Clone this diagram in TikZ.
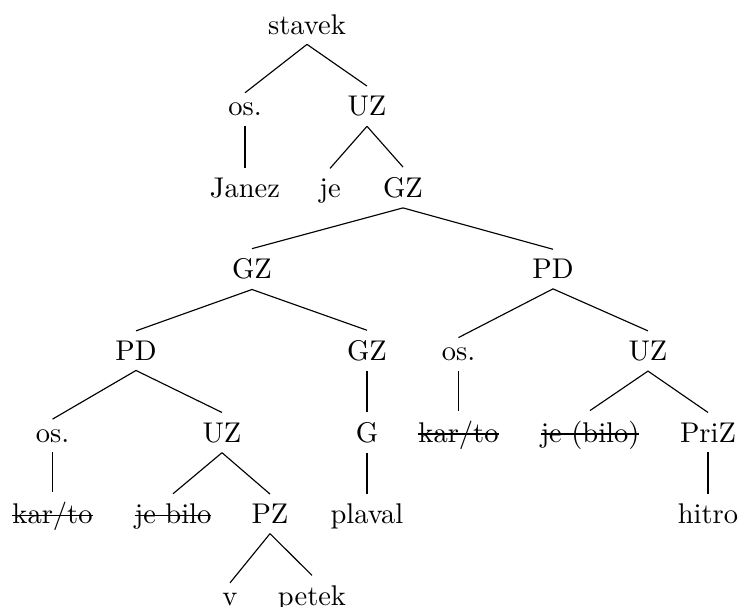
\documentclass[tikz,border=0pt]{standalone}
% struck-out word: text with a rule drawn through it
\newcommand\strk[1]{\setbox0\hbox{#1}\rlap{\rule[0.26em]{\wd0}{0.4pt}}\box0}
\begin{document}
\begin{tikzpicture}[x=0.351pt,y=-0.351pt,
  lbl/.style={anchor=base},
  edge/.style={line width=0.4pt}]
\useasboundingbox (0,0) rectangle (741,607);
% level 0
\node[lbl] (s)   at (307,34)    {stavek};
% level 1
\node[lbl] (os1) at (245,115.6) {os.};
\node[lbl] (uz1) at (367,115.6) {UZ};
% level 2
\node[lbl] (janez) at (245,197.2) {Janez};
\node[lbl] (je1)   at (330,197.2) {je};
\node[lbl] (gz2)   at (403,197.2) {GZ};
% level 3
\node[lbl] (gz3) at (252,278.8) {GZ};
\node[lbl] (pd3) at (553,278.8) {PD};
% level 4
\node[lbl] (pd4)  at (136,360.4) {PD};
\node[lbl] (gz4)  at (367,360.4) {GZ};
\node[lbl] (os4)  at (458.5,360.4) {os.};
\node[lbl] (uz4)  at (648,360.4) {UZ};
% level 5
\node[lbl] (os5)   at (52.5,442) {os.};
\node[lbl] (uz5)   at (222,442)  {UZ};
\node[lbl] (g5)    at (367,442)  {G};
\node[lbl] (kar5)  at (458.5,442) {\strk{kar/to}};
\node[lbl] (jeb5)  at (590,442)  {\strk{je (bilo)}};
\node[lbl] (priz5) at (708,442)  {PriZ};
% level 6
\node[lbl] (kar6)   at (52.5,523.6) {\strk{kar/to}};
\node[lbl] (jeb6)   at (173,523.6)  {\strk{je bilo}};
\node[lbl] (pz6)    at (270,523.6)  {PZ};
\node[lbl] (plaval) at (367,523.6)  {plaval};
\node[lbl] (hitro)  at (708,523.6)  {hitro};
% level 7
\node[lbl] (v)     at (230,605.2) {v};
\node[lbl] (petek) at (312,605.2) {petek};
% branches
\foreach \p/\c in {s/os1, s/uz1, os1/janez, uz1/je1, uz1/gz2,
                   gz2/gz3, gz2/pd3, gz3/pd4, gz3/gz4, pd3/os4, pd3/uz4,
                   pd4/os5, pd4/uz5, gz4/g5, os4/kar5, uz4/jeb5, uz4/priz5,
                   os5/kar6, uz5/jeb6, uz5/pz6, g5/plaval, priz5/hitro,
                   pz6/v, pz6/petek}
  \draw[edge] (\p.south) -- (\c.north);
\end{tikzpicture}
\end{document}
